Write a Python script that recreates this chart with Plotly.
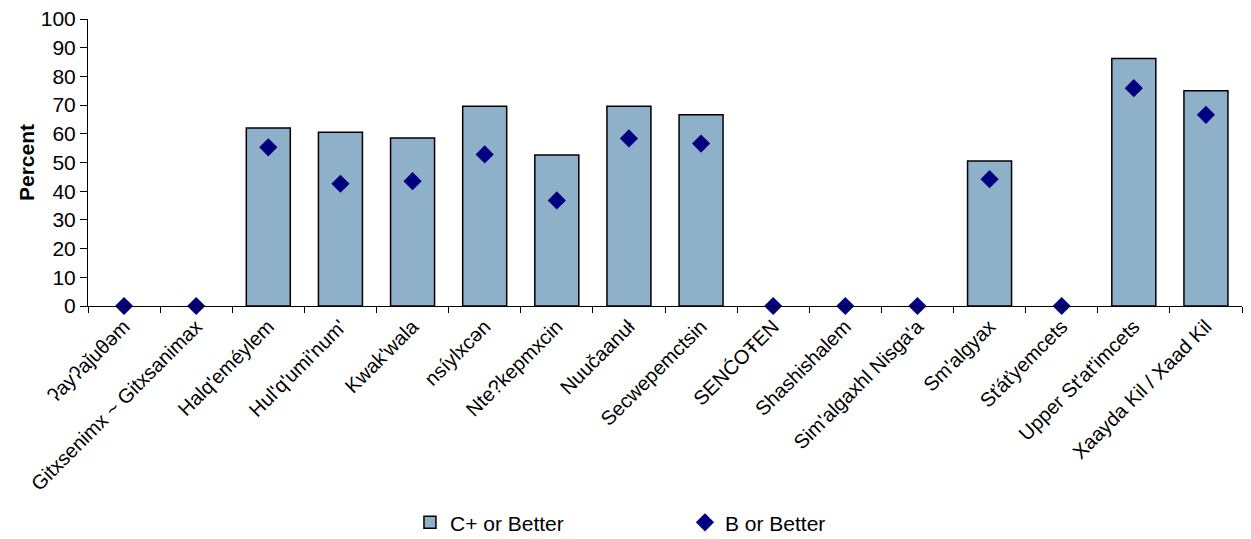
import plotly.graph_objects as go

categories = ["ʔayʔaǰuθəm", "Gitxsenimx ~ Gitxsanimax", "Halq'eméylem", "Hul'q'umi'num'",
              "Kwak'wala", "nsíylxcən", "Nte?kepmxcin", "Nuučaanuł", "Secwepemctsin",
              "SENĆOŦEN", "Shashishalem", "Sim'algaxhl Nisga'a", "Sm'algyax",
              "Sťáťyemcets", "Upper St'at'imcets", "Xaayda Kil / Xaad Kil"]
c_plus = [0, 0, 62.0, 60.5, 58.5, 69.6, 52.6, 69.6, 66.6, 0, 0, 0, 50.5, 0, 86.2, 75.0]
b_better = [0, 0, 55.3, 42.6, 43.5, 52.8, 36.8, 58.4, 56.6, 0, 0, 0, 44.2, 0, 75.9, 66.6]
y_ticks = list(range(0, 101, 10))

BAR_COLOR = "#8EB0C8"
outline_w = [1.5 if v > 0 else 0 for v in c_plus]

fig = go.Figure()
fig.add_trace(go.Bar(x=categories, y=c_plus, name="C+ or Better", showlegend=False,
                     marker=dict(color=BAR_COLOR, line=dict(color="black", width=outline_w))))
# legend entry for the bar series (with outline)
fig.add_trace(go.Bar(x=[None], y=[None], name="C+ or Better",
                     marker=dict(color=BAR_COLOR, line=dict(color="black", width=1.5))))
fig.add_trace(go.Scatter(x=categories, y=b_better, name="B or Better", mode="markers",
                         cliponaxis=False,
                         marker=dict(symbol="diamond", size=14, color="#000080")))

fig.update_layout(
    width=1243, height=531,
    margin=dict(l=80, r=9, t=11, b=233, autoexpand=False),
    plot_bgcolor="white", paper_bgcolor="white",
    font=dict(family="Arial, Liberation Sans, sans-serif", color="black"),
    bargap=0.39, barmode="overlay",
    showlegend=True,
    legend=dict(orientation="h", x=0.279, y=-0.755, xanchor="left", yanchor="middle",
                font=dict(size=21), entrywidth=230, itemwidth=30,
                borderwidth=0, bgcolor="rgba(0,0,0,0)"),
)
fig.update_xaxes(
    type="category", tickangle=-45, tickfont=dict(size=20), automargin=False,
    showline=True, linecolor="black", linewidth=1,
    ticks="outside", ticklen=6, tickcolor="black", tickson="boundaries",
    showgrid=False, range=[-0.5, 15.5],
)
fig.update_yaxes(
    range=[0, 100], tickmode="array", tickvals=y_ticks, tickfont=dict(size=21),
    automargin=False, ticklabeloverflow="allow",
    showline=True, linecolor="black", linewidth=1,
    ticks="outside", ticklen=7, tickcolor="black", showgrid=False, zeroline=False,
    title=dict(text="<b>Percent</b>", font=dict(size=21), standoff=0),
)
fig.write_html("out.html")
